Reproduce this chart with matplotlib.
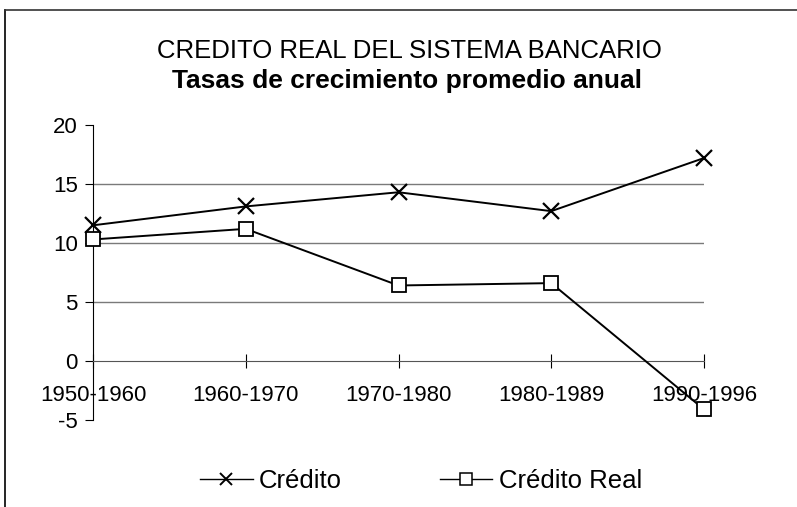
import matplotlib
matplotlib.use("Agg")
import matplotlib.pyplot as plt
from matplotlib.lines import Line2D

categories = ["1950-1960", "1960-1970", "1970-1980", "1980-1989", "1990-1996"]
credito = [11.5, 13.1, 14.3, 12.7, 17.2]
credito_real = [10.3, 11.2, 6.4, 6.6, -4.1]
yticks = [-5, 0, 5, 10, 15, 20]

plt.rcParams['font.family'] = ['Liberation Sans', 'DejaVu Sans']

fig = plt.figure(figsize=(7.97, 5.07), dpi=100)
W, H = 797, 507
ax = fig.add_axes([93 / W, 1 - 420 / H, (704 - 93) / W, (420 - 125) / H])

x = list(range(len(categories)))
for yv in [5, 10, 15]:
    ax.axhline(yv, color='#7a7a7a', lw=1.0, zorder=1)

ax.plot(x, credito, color='black', lw=1.4, marker='x', ms=11, mew=1.6,
        label='Crédito', zorder=3, clip_on=False)
ax.plot(x, credito_real, color='black', lw=1.4, marker='s', ms=10, mew=1.3,
        mfc='white', label='Crédito Real', zorder=3, clip_on=False)

ax.set_xlim(0, len(categories) - 1)
ax.set_ylim(-5, 20)
ax.set_yticks(yticks)
ax.set_yticklabels([str(v) for v in yticks])
ax.set_xticks(x)
ax.set_xticklabels(categories)

ax.spines['top'].set_visible(False)
ax.spines['right'].set_visible(False)
ax.spines['bottom'].set_position(('data', 0))
ax.spines['bottom'].set_color('#555555')
ax.spines['left'].set_color('black')
ax.tick_params(axis='y', direction='out', length=6, labelsize=16, pad=5)
ax.tick_params(axis='x', direction='inout', length=10, labelsize=16, pad=12)
ax.set_facecolor('none')

fig.text(409 / W, 1 - 51 / H, 'CREDITO REAL DEL SISTEMA BANCARIO', ha='center', va='center',
         fontsize=18.5)
fig.text(407 / W, 1 - 81 / H, 'Tasas de crecimiento promedio anual', ha='center', va='center',
         fontsize=19, fontweight='bold')

handles = [Line2D([], [], color='black', lw=1.0, marker='x', ms=8, mew=1.4),
           Line2D([], [], color='black', lw=1.0, marker='s', ms=8, mew=1.1, mfc='white')]
fig.legend(handles, ['Crédito', 'Crédito Real'], loc='center', ncol=2,
           bbox_to_anchor=(421 / W, 1 - 481 / H), frameon=False, fontsize=18.5,
           handlelength=2.05, handletextpad=0.25, columnspacing=3.8)

# chart border (left and top)
fig.add_artist(Line2D([5 / W, 5 / W], [0, 1 - 10 / H], transform=fig.transFigure,
                      color='black', lw=1.2))
fig.add_artist(Line2D([5 / W, 1], [1 - 10 / H, 1 - 10 / H], transform=fig.transFigure,
                      color='#333333', lw=1.2))

fig.savefig('out.png', dpi=100)
